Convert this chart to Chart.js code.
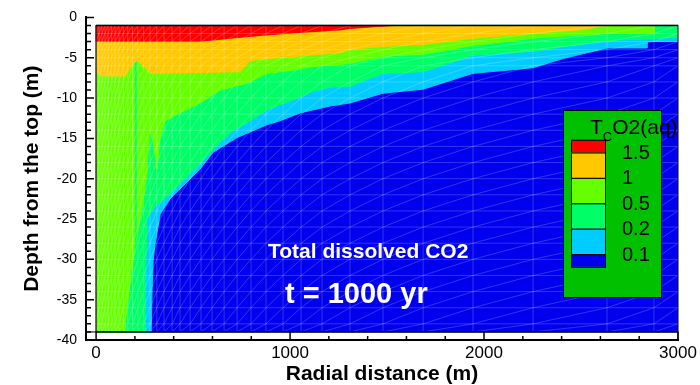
<!DOCTYPE html>
<html>
<head>
<meta charset="utf-8">
<script src="https://cdn.jsdelivr.net/npm/chart.js@4.4.1/dist/chart.umd.min.js"></script>
<style>
  html, body { margin: 0; padding: 0; background: #fff; }
</style>
</head>
<body>
<canvas id="chart" width="700" height="385"></canvas>
<script>
// contour levels of total dissolved CO2 and the colours of the bands between them
const levels = [0.1, 0.2, 0.5, 1, 1.5];
const levelLabels = ['0.1', '0.2', '0.5', '1', '1.5'];
const bandColors = ['#0000EE', '#00CCFF', '#00FF66', '#66FF00', '#FFC800', '#FF0000'];

// axis ticks
const distTicks = [0, 1000, 2000, 3000];
const depthTicks = [0, -5, -10, -15, -20, -25, -30, -35, -40];

// extent of the model grid (m)
const domainDist = [0, 3000];
const domainDepth = [-1, -39];

// contour lines, radial distance (m) / depth (m)
const c01Dist  = [3000, 2840, 2840, 2634, 2407, 2253, 1943, 1686, 1479, 1309, 1206, 1052, 948, 881, 727, 603, 536, 433, 381, 330, 304, 294, 289, 284];
const c01Depth = [-2.99, -2.99, -3.79, -3.79, -5.1, -6.24, -6.94, -8.9, -9.39, -10.61, -10.98, -11.84, -12.82, -13.3, -14.9, -16.73, -18.81, -21.26, -22.48, -24.44, -28.11, -30.2, -33.5, -39];

const c02Dist  = [3000, 2840, 2634, 2407, 2253, 1943, 1686, 1479, 1309, 1206, 1119, 1015, 881, 794, 691, 588, 485, 381, 304, 263, 258, 253, 253];
const c02Depth = [-2.47, -2.66, -2.86, -3.64, -4.21, -4.7, -6.73, -6.94, -8.53, -8.65, -9.14, -10.24, -11.47, -12.82, -14.28, -16.73, -19.42, -21.87, -23.46, -24.93, -28.97, -33.87, -39];

const c05Dist  = [2876, 2876, 2634, 2253, 1943, 1686, 1479, 1309, 1206, 1119, 1015, 881, 778, 639, 536, 433, 356, 330, 314, 294, 273, 263, 242, 216, 191, 170, 155, 149];
const c05Depth = [-1, -1.96, -1.96, -2.57, -3.48, -4.58, -4.82, -5.72, -5.92, -6.08, -6.54, -6.94, -8.16, -9.02, -10.61, -11.84, -12.82, -14.9, -18.8, -15.5, -13.68, -19.18, -22.85, -26.5, -30.2, -33.9, -36.9, -39];

const c10Dist  = [2634, 2495, 2253, 1943, 1686, 1479, 1309, 1258, 948, 794, 742, 278, 242, 211, 191, 149, 21, 0];
const c10Depth = [-1, -1.55, -1.96, -2.57, -3.35, -3.6, -3.97, -4.37, -4.98, -5.35, -6.73, -6.94, -5.96, -5.31, -5.72, -7.27, -7.25, -6.7];

const c15Dist  = [1541, 1469, 1309, 1258, 1052, 881, 742, 536, 0];
const c15Depth = [-1, -1.1, -1.37, -1.55, -1.86, -2.17, -2.47, -2.96, -2.96];

// thin streak of lower concentration inside the plume
const streakDist = [204, 204];
const streakDepth = [-5.5, -36.5];

// mesh nodes of the model grid
const meshDist = [0, 15, 30, 46, 62, 80, 98, 118, 140, 163, 188, 215, 245, 278, 313, 350, 392, 433, 485, 541, 598, 660, 727, 799, 876, 964, 1057, 1165, 1309, 1479, 1686, 1943, 2253, 2634, 2876, 3000];
const meshDepth = [-1, -2, -3, -4, -5, -6, -8, -10, -12, -14, -16, -18, -20, -22, -24, -26, -28, -30, -32, -34, -36, -38, -39];

const FONT = "'Liberation Sans', Arial, sans-serif";

// region where concentration is above a level: contour + the domain corners that close it
function region(dist, depth) {
  const pts = dist.map((d, i) => ({x: d, y: depth[i]}));
  const [x0, x1] = domainDist, [top, bot] = domainDepth;
  if (depth[depth.length - 1] === bot) pts.push({x: x0, y: bot});
  pts.push({x: x0, y: top});
  if (dist[0] === x1 && depth[0] !== top) pts.push({x: x1, y: top});
  return pts;
}

function band(points, color, order) {
  return {
    data: points, showLine: true, fill: 'shape',
    backgroundColor: color, borderColor: color, borderWidth: 1,
    pointRadius: 0, tension: 0, order: order
  };
}

const background = [
  {x: domainDist[0], y: domainDepth[0]}, {x: domainDist[1], y: domainDepth[0]},
  {x: domainDist[1], y: domainDepth[1]}, {x: domainDist[0], y: domainDepth[1]}
];

const datasets = [
  band(background, bandColors[0], 10),
  band(region(c01Dist, c01Depth), bandColors[1], 9),
  band(region(c02Dist, c02Depth), bandColors[2], 8),
  band(region(c05Dist, c05Depth), bandColors[3], 7),
  {
    data: streakDist.map((d, i) => ({x: d, y: streakDepth[i]})),
    showLine: true, fill: false, borderColor: bandColors[2], borderWidth: 2,
    pointRadius: 0, order: 6
  },
  band(region(c10Dist, c10Depth), bandColors[4], 5),
  band(region(c15Dist, c15Depth), bandColors[5], 4)
];

const overlay = {
  id: 'overlay',
  afterDatasetsDraw(chart) {
    const {ctx, scales: {x, y}} = chart;
    const X = v => x.getPixelForValue(v), Y = v => y.getPixelForValue(v);
    ctx.save();
    ctx.beginPath();
    ctx.rect(X(domainDist[0]), Y(domainDepth[0]), X(domainDist[1]) - X(domainDist[0]), Y(domainDepth[1]) - Y(domainDepth[0]));
    ctx.clip();
    ctx.strokeStyle = 'rgba(255,255,255,0.2)';
    ctx.lineWidth = 1;
    ctx.beginPath();
    meshDist.forEach(d => { ctx.moveTo(X(d), Y(domainDepth[0])); ctx.lineTo(X(d), Y(domainDepth[1])); });
    meshDepth.forEach(z => { ctx.moveTo(X(domainDist[0]), Y(z)); ctx.lineTo(X(domainDist[1]), Y(z)); });
    for (let i = 0; i < meshDist.length - 1; i++) {
      for (let j = 0; j < meshDepth.length - 1; j++) {
        ctx.moveTo(X(meshDist[i]), Y(meshDepth[j + 1]));
        ctx.lineTo(X(meshDist[i + 1]), Y(meshDepth[j]));
      }
    }
    ctx.stroke();
    ctx.restore();
  },
  afterDraw(chart) {
    const {ctx, chartArea: area, scales: {x, y}} = chart;
    const X = v => x.getPixelForValue(v), Y = v => y.getPixelForValue(v);
    ctx.save();

    // frame round the data and the empty strip under it
    ctx.strokeStyle = '#000';
    ctx.lineWidth = 1;
    ctx.strokeRect(X(domainDist[0]), Y(domainDepth[0]), X(domainDist[1]) - X(domainDist[0]), Y(domainDepth[1]) - Y(domainDepth[0]));
    ctx.lineWidth = 1.5;
    ctx.beginPath();
    ctx.moveTo(X(domainDist[0]), Y(domainDepth[0]));
    ctx.lineTo(X(domainDist[1]), Y(domainDepth[0]));
    ctx.stroke();
    ctx.lineWidth = 1;
    ctx.strokeRect(area.left, Y(domainDepth[1]), X(domainDist[1]) - area.left, area.bottom - Y(domainDepth[1]));

    // inward ticks
    ctx.lineWidth = 1.5;
    ctx.beginPath();
    for (let v = 0; v >= -40; v--) {
      const len = v % 5 === 0 ? 8 : 5;
      ctx.moveTo(area.left, Y(v));
      ctx.lineTo(area.left + len, Y(v));
    }
    for (let v = 0; v <= 3000; v += 200) {
      const len = v % 1000 === 0 ? 8 : 4;
      ctx.moveTo(X(v), area.bottom);
      ctx.lineTo(X(v), area.bottom - len);
    }
    ctx.stroke();

    // labels in the plot
    ctx.fillStyle = '#fff';
    ctx.textBaseline = 'alphabetic';
    ctx.textAlign = 'left';
    ctx.font = 'bold 21px ' + FONT;
    ctx.fillText('Total dissolved CO2', 268, 258);
    ctx.font = 'bold 29px ' + FONT;
    ctx.fillText('t = 1000 yr', 285, 303);

    // contour legend
    ctx.fillStyle = '#00C000';
    ctx.fillRect(563, 110, 98, 187);
    ctx.strokeStyle = '#000';
    ctx.lineWidth = 1;
    ctx.strokeRect(563.5, 110.5, 98, 187);

    ctx.fillStyle = '#000';
    ctx.font = '21px ' + FONT;
    let tx = 590;
    ctx.fillText('T', tx, 134);
    tx += ctx.measureText('T').width;
    ctx.font = '13px ' + FONT;
    ctx.fillText('C', tx, 141);
    tx += ctx.measureText('C').width;
    ctx.font = '21px ' + FONT;
    ctx.fillText('O2(aq)', tx, 134);

    const step = 25.4, first = 152.5, sx = 571, sw = 34;
    const n = levels.length;
    for (let k = 0; k <= n; k++) {
      // k = 0 is the top (highest) band
      const color = bandColors[n - k];
      const y0 = k === 0 ? first - step / 2 : first + (k - 1) * step;
      const y1 = k === n ? first + (n - 1) * step + step / 2 : first + k * step;
      ctx.fillStyle = color;
      ctx.fillRect(sx, y0, sw, y1 - y0);
      ctx.strokeRect(sx + 0.5, y0 + 0.5, sw, y1 - y0);
    }
    ctx.fillStyle = '#000';
    ctx.font = '20px ' + FONT;
    ctx.textBaseline = 'middle';
    for (let k = 0; k < n; k++) {
      ctx.fillText(levelLabels[n - 1 - k], 622, first + k * step + 1);
    }
    ctx.restore();
  }
};

const ctx = document.getElementById('chart').getContext('2d');
const myChart = new Chart(ctx, {
  type: 'scatter',
  data: { datasets: datasets },
  options: {
    responsive: false,
    animation: false,
    devicePixelRatio: 1,
    layout: { padding: { left: 0, right: 22, top: 13, bottom: 0 } },
    plugins: { legend: { display: false }, tooltip: { enabled: false } },
    scales: {
      x: {
        type: 'linear', min: -52, max: 3000,
        afterBuildTicks: s => { s.ticks = distTicks.map(v => ({value: v})); },
        afterFit: s => { s.height = 45; },
        grid: { display: false, drawTicks: false },
        border: { display: true, color: '#000', width: 2 },
        ticks: {
          color: '#000', padding: 3, maxRotation: 0,
          font: { family: FONT, size: 17 },
          callback: v => String(v)
        },
        title: {
          display: true, text: 'Radial distance (m)', color: '#000',
          padding: { top: 0, bottom: 0 },
          font: { family: FONT, size: 21, weight: 'bold', lineHeight: 1 }
        }
      },
      y: {
        type: 'linear', min: -40, max: 0,
        afterBuildTicks: s => { s.ticks = depthTicks.map(v => ({value: v})); },
        afterFit: s => { s.width = 86; },
        grid: { display: false, drawTicks: false },
        border: { display: true, color: '#000', width: 2 },
        ticks: {
          color: '#000', padding: 9,
          font: { family: FONT, size: 14 },
          callback: v => String(v)
        },
        title: {
          display: true, text: 'Depth from the top (m)', color: '#000',
          padding: { top: 21.5, bottom: 0 },
          font: { family: FONT, size: 21, weight: 'bold', lineHeight: 1 }
        }
      }
    }
  },
  plugins: [overlay]
});
</script>
</body>
</html>
